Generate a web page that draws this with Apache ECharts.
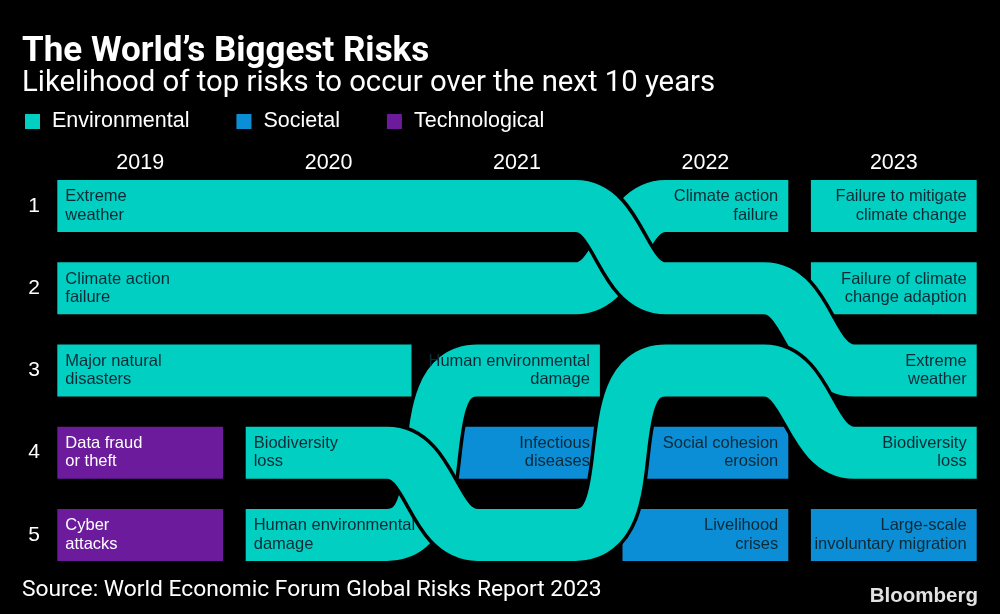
<!DOCTYPE html>
<html><head><meta charset="utf-8">
<script src="https://cdn.jsdelivr.net/npm/echarts@6/dist/echarts.min.js"></script>
<style>html,body{margin:0;padding:0;background:#000;}#c{width:1000px;height:614px;}</style>
</head><body><div id="c"></div>
<script>
// ---------- data ----------
const years = ['2019', '2020', '2021', '2022', '2023'];
const rankTicks = ['1', '2', '3', '4', '5'];
const legendNames = ['Environmental', 'Societal', 'Technological'];

// risks in drawing order (later ones are drawn on top)
const riskLabels = [
  'Failure to mitigate\nclimate change',
  'Failure of climate\nchange adaption',
  'Major natural\ndisasters',
  'Climate action\nfailure',
  'Extreme\nweather',
  'Human environmental\ndamage',
  'Biodiversity\nloss',
  'Infectious\ndiseases',
  'Social cohesion\nerosion',
  'Livelihood\ncrises',
  'Large-scale\ninvoluntary migration',
  'Data fraud\nor theft',
  'Cyber\nattacks'
];
const riskGroups = [
  'Environmental', 'Environmental', 'Environmental', 'Environmental', 'Environmental',
  'Environmental', 'Environmental', 'Societal', 'Societal', 'Societal', 'Societal',
  'Technological', 'Technological'
];
// rank in each year 2019..2023 (null = not in top 5)
const riskRanks = [
  [null, null, null, null, 1],
  [null, null, null, null, 2],
  [3, 3, null, null, null],
  [2, 2, 2, 1, null],
  [1, 1, 1, 2, 3],
  [null, 5, 3, null, null],
  [null, 4, 5, 3, 4],
  [null, null, 4, null, null],
  [null, null, null, 4, null],
  [null, null, null, 5, null],
  [null, null, null, null, 5],
  [4, null, null, null, null],
  [5, null, null, null, null]
];

// ---------- styles ----------
const groupColors = { Environmental: '#00CFC2', Societal: '#0C8ED6', Technological: '#6B1B9C' };
const textColors = { Environmental: '#0C2A36', Societal: '#0C2A36', Technological: '#FFFFFF' };
const BOX_W = 0.88;    // fraction of column band
const BOX_H = 0.632;   // fraction of row band
const CURVE = 0.24;    // half horizontal extent of a rank change, fraction of band
const CURVE_POS = 0.55; // where in between two columns the rank change happens
const LABEL_FONT = 'Liberation Sans, Arial, sans-serif';

function renderRisk(params, api) {
  const r = api.value(2);
  const rk = riskRanks[r];
  const grp = riskGroups[r];
  const color = groupColors[grp];
  const tcol = textColors[grp];
  const idx = [];
  rk.forEach((v, i) => { if (v != null) idx.push(i); });
  const first = idx[0], last = idx[idx.length - 1];
  const band = api.size([1, 1]);
  const bw = band[0], bh = band[1];
  const halfBox = bw * BOX_W / 2;
  const h = bh * BOX_H;
  const P = i => api.coord([i, rk[i] - 1]);
  const x0 = P(first)[0] - halfBox;
  const xEnd = P(last)[0] + halfBox;
  const changed = idx.some(i => rk[i] !== rk[first]);
  const children = [];
  if (!changed) {
    const y = P(first)[1];
    children.push({ type: 'rect', shape: { x: x0, y: y - h / 2, width: xEnd - x0, height: h }, style: { fill: color } });
  } else {
    const d = bw * CURVE;
    let path = 'M' + x0 + ',' + P(first)[1];
    for (let k = 0; k < idx.length - 1; k++) {
      const a = P(idx[k]), b = P(idx[k + 1]);
      if (a[1] !== b[1]) {
        const gx = a[0] + (b[0] - a[0]) * CURVE_POS;
        const steps = Math.abs(rk[idx[k + 1]] - rk[idx[k]]);
        const kk = steps > 1 ? d * 1.6 : d;
        path += ' L' + (gx - d) + ',' + a[1] +
          ' C' + (gx - d + kk) + ',' + a[1] + ' ' + (gx + d - kk) + ',' + b[1] + ' ' + (gx + d) + ',' + b[1];
      }
    }
    path += ' L' + xEnd + ',' + P(last)[1];
    children.push({ type: 'path', shape: { pathData: path }, style: { fill: 'none', stroke: '#000', lineWidth: h + 7, lineCap: 'butt' } });
    children.push({ type: 'path', shape: { pathData: path }, style: { fill: 'none', stroke: color, lineWidth: h, lineCap: 'butt' } });
  }
  const label = (txt, x, y, align) => ({
    type: 'text',
    style: { text: txt, x: x, y: y, fill: tcol, fontSize: 16.5, fontFamily: LABEL_FONT, align: align, verticalAlign: 'middle', lineHeight: 18.5 }
  });
  if (idx.length === 1 && first > 0) {
    children.push(label(riskLabels[r], xEnd - 10, P(first)[1], 'right'));
  } else {
    children.push(label(riskLabels[r], x0 + 8, P(first)[1], 'left'));
    if (changed) children.push(label(riskLabels[r], xEnd - 10, P(last)[1], 'right'));
  }
  return { type: 'group', children: children };
}

function seriesFor(name, z) {
  const data = [];
  riskGroups.forEach((g, r) => {
    if (g !== name) return;
    const f = riskRanks[r].findIndex(v => v != null);
    data.push([f, riskRanks[r][f] - 1, r]);
  });
  return {
    name: name, type: 'custom', z: z,
    itemStyle: { color: groupColors[name] },
    encode: { x: 0, y: 1 },
    renderItem: renderRisk,
    data: data
  };
}

const chart = echarts.init(document.getElementById('c'));
chart.setOption({
  backgroundColor: '#000',
  animation: false,
  color: [groupColors.Societal, groupColors.Technological, groupColors.Environmental],
  title: [
    { text: 'The World’s Biggest Risks', left: 17, top: 30, padding: 5,
      textStyle: { color: '#fff', fontSize: 35, fontWeight: 'bold', fontFamily: 'Roboto' } },
    { text: 'Likelihood of top risks to occur over the next 10 years', left: 17, top: 64, padding: 5,
      textStyle: { color: '#fff', fontSize: 29.3, fontWeight: 'normal', fontFamily: 'Roboto' } },
    { text: 'Source: World Economic Forum Global Risks Report 2023', left: 17, top: 574, padding: 5,
      textStyle: { color: '#fff', fontSize: 22.8, fontWeight: 'normal', fontFamily: 'Roboto' } },
    { text: 'Bloomberg', right: 17, top: 581, padding: 5,
      textStyle: { color: '#e2e2e2', fontSize: 20.5, fontWeight: 'bold', fontFamily: 'Liberation Sans' } }
  ],
  legend: {
    data: legendNames, left: 25, top: 110.5, padding: 0, icon: 'rect',
    itemWidth: 15, itemHeight: 15, itemGap: 47,
    textStyle: { color: '#fff', fontSize: 21.5, fontFamily: LABEL_FONT, padding: [0, 0, 0, 7] }
  },
  grid: { left: 46, right: 12, top: 165, bottom: 38 },
  xAxis: {
    type: 'category', data: years, position: 'top',
    axisLine: { show: false }, axisTick: { show: false }, splitLine: { show: false },
    axisLabel: { color: '#fff', fontSize: 21.5, fontFamily: LABEL_FONT, margin: -9 }
  },
  yAxis: {
    type: 'category', data: rankTicks, inverse: true,
    axisLine: { show: false }, axisTick: { show: false }, splitLine: { show: false },
    axisLabel: { color: '#fff', fontSize: 21, fontFamily: LABEL_FONT, margin: 6 }
  },
  series: [seriesFor('Societal', 2), seriesFor('Technological', 2), seriesFor('Environmental', 3)]
});
</script>
</body></html>
